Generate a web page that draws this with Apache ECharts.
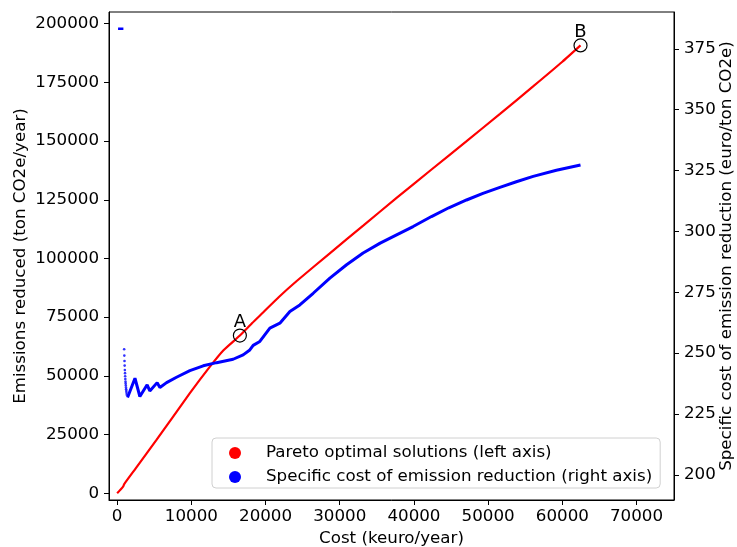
<!DOCTYPE html>
<html>
<head>
<meta charset="utf-8">
<script src="https://cdn.jsdelivr.net/npm/echarts@6/dist/echarts.min.js"></script>
<style>
html,body{margin:0;padding:0;background:#fff;}
#chart{width:737px;height:547px;}
</style>
</head>
<body>
<div id="chart"></div>
<script>
// ---- data ----
const xTicks = [0, 10000, 20000, 30000, 40000, 50000, 60000, 70000];
const leftTicks = [0, 25000, 50000, 75000, 100000, 125000, 150000, 175000, 200000];
const rightTicks = [200, 225, 250, 275, 300, 325, 350, 375];

// Pareto optimal solutions (left axis)
const redCost = [0, 800, 950, 2500, 5300, 9800, 12500, 14300, 16540, 18200, 19700, 21800, 24200, 28700, 33200, 37700, 42370, 47100, 51600, 56100, 60000, 62450];
const redEmis = [0, 2800, 3900, 10600, 22700, 42600, 53900, 60800, 67170, 72500, 77100, 83600, 90400, 102300, 114100, 125900, 137900, 150000, 161600, 173400, 183800, 190760];

// Specific cost of emission reduction (right axis) - scattered start
const dotCost = [945, 965, 990, 1010, 1035, 1060, 1080, 1100, 1125, 1145, 1165, 1190, 1210, 1235, 1260, 1290];
const dotVal  = [251.6, 249.0, 246.8, 244.9, 243.1, 241.8, 240.5, 239.4, 238.3, 237.5, 236.7, 235.9, 235.2, 234.5, 233.7, 232.9];
// isolated high values at very low cost
const topCost = [120, 840];
const topVal  = [383.2, 383.2];
// main part of the curve
const blueCost = [1400, 2400, 3060, 4040, 4400, 5390, 5760, 6660, 8000, 9800, 11600, 13400, 15630, 16980, 17880, 18330, 19230, 20580, 21930, 23280, 24620, 26420, 28670, 30920, 33150, 35450, 37660, 39890, 42360, 44700, 47090, 49300, 51580, 53800, 56070, 59200, 62450];
const blueVal  = [231.8, 239.7, 232.2, 237.0, 234.5, 237.9, 235.9, 237.9, 240.1, 242.8, 244.8, 246.1, 247.5, 249.3, 251.3, 253.2, 254.8, 260.3, 262.3, 267.1, 269.8, 274.6, 280.8, 286.3, 291.1, 295.2, 298.6, 302.0, 306.1, 309.7, 312.9, 315.6, 318.1, 320.4, 322.6, 325.1, 327.3];

// marked points
const markLabels = ['A', 'B'];
const markCost = [16540, 62450];
const markEmis = [67170, 190760];

// ---- build chart ----
const FONT = 'DejaVu Sans';
const FS = 16.7;
const zip = (a, b) => a.map((v, i) => [v, b[i]]);

const chart = echarts.init(document.getElementById('chart'), null, {renderer: 'canvas'});
chart.setOption({
  animation: false,
  backgroundColor: '#fff',
  textStyle: {fontFamily: FONT},
  grid: {left: 109, right: 63, top: 12, bottom: 47, containLabel: false, outerBoundsMode: 'none',
         show: true, borderColor: '#000', borderWidth: 1, backgroundColor: 'transparent'},
  legend: {
    orient: 'vertical',
    left: 212, top: 438,
    data: ['Pareto optimal solutions (left axis)', 'Specific cost of emission reduction (right axis)'],
    icon: 'circle',
    itemWidth: 12, itemHeight: 12,
    itemGap: 6,
    padding: [6, 8, 2, 17],
    backgroundColor: 'rgba(255,255,255,0.8)',
    borderColor: '#d0d0d0', borderWidth: 1, borderRadius: 4,
    textStyle: {fontFamily: FONT, fontSize: FS, color: '#000', padding: [0, 0, 0, 20], lineHeight: 18}
  },
  xAxis: {
    type: 'value', min: -1100, max: 75050,
    name: 'Cost (keuro/year)', nameLocation: 'middle', nameGap: 30, nameMoveOverlap: false,
    nameTextStyle: {fontFamily: FONT, fontSize: FS, color: '#000'},
    splitLine: {show: false},
    axisLine: {show: true, onZero: false, lineStyle: {color: '#000', width: 1}},
    axisTick: {show: true, length: 5, lineStyle: {color: '#000'}, customValues: xTicks},
    axisLabel: {fontFamily: FONT, fontSize: FS, color: '#000', margin: 8, customValues: xTicks, formatter: v => String(v)}
  },
  yAxis: [{
    type: 'value', min: -2900, max: 205000, position: 'left',
    name: 'Emissions reduced (ton CO2e/year)', nameLocation: 'middle', nameGap: 80, nameRotate: 90, nameMoveOverlap: false,
    nameTextStyle: {fontFamily: FONT, fontSize: FS, color: '#000'},
    splitLine: {show: false},
    axisLine: {show: true, onZero: false, lineStyle: {color: '#000', width: 1}},
    axisTick: {show: true, length: 5, lineStyle: {color: '#000'}, customValues: leftTicks},
    axisLabel: {fontFamily: FONT, fontSize: FS, color: '#000', margin: 10, customValues: leftTicks, formatter: v => String(v)}
  }, {
    type: 'value', min: 189.7, max: 390.1, position: 'right',
    name: 'Specific cost of emission reduction (euro/ton CO2e)', nameLocation: 'middle', nameGap: 44, nameRotate: 90, nameMoveOverlap: false,
    nameTextStyle: {fontFamily: FONT, fontSize: FS, color: '#000'},
    splitLine: {show: false},
    axisLine: {show: true, onZero: false, lineStyle: {color: '#000', width: 1}},
    axisTick: {show: true, length: 5, lineStyle: {color: '#000'}, customValues: rightTicks},
    axisLabel: {fontFamily: FONT, fontSize: FS, color: '#000', margin: 10, customValues: rightTicks, formatter: v => String(v)}
  }],
  series: [{
    name: 'Pareto optimal solutions (left axis)',
    type: 'line', yAxisIndex: 0, data: zip(redCost, redEmis),
    showSymbol: false, symbol: 'circle', color: '#ff0000', smooth: 0.2,
    lineStyle: {color: '#ff0000', width: 2.2}, z: 2
  }, {
    name: 'Specific cost of emission reduction (right axis)',
    type: 'line', yAxisIndex: 1, data: zip(blueCost, blueVal),
    showSymbol: false, symbol: 'circle', color: '#0000ff',
    lineStyle: {color: '#0000ff', width: 3}, z: 3
  }, {
    name: 'blueDots', type: 'scatter', yAxisIndex: 1, data: zip(dotCost, dotVal),
    symbol: 'circle', symbolSize: 2.6, itemStyle: {color: '#0000ff'}, z: 3
  }, {
    name: 'blueTop', type: 'line', yAxisIndex: 1, data: zip(topCost, topVal),
    showSymbol: false, lineStyle: {color: '#0000ff', width: 2.6}, z: 3
  }, {
    name: 'marks', type: 'scatter', yAxisIndex: 0,
    data: markCost.map((c, i) => ({value: [c, markEmis[i]], name: markLabels[i]})),
    symbol: 'circle', symbolSize: 13,
    itemStyle: {color: 'rgba(0,0,0,0)', borderColor: '#000', borderWidth: 1.2, opacity: 1},
    label: {show: true, position: 'top', distance: -3, formatter: p => p.name, fontFamily: FONT, fontSize: 18, color: '#000'},
    z: 5
  }]
});
</script>
</body>
</html>
